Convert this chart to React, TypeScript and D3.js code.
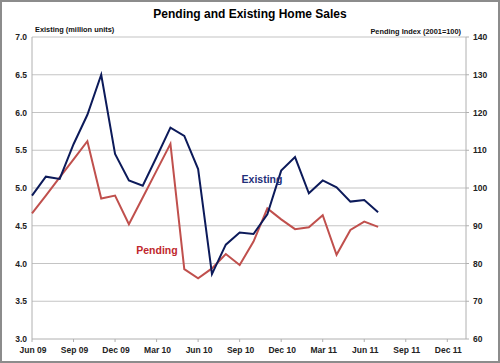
import React, { useEffect, useRef } from "react";
import * as d3 from "d3";

// monthly data, Jun 09 .. Jul 11
const existing = [
	4.9, 5.15, 5.12, 5.58, 5.97, 6.5, 5.45, 5.1, 5.03, 5.41, 5.8, 5.69, 5.25, 3.86, 4.25, 4.41, 4.39, 4.65,
	5.23, 5.41, 4.93, 5.1, 5.01, 4.82, 4.84, 4.68,
];
const pending = [
	93.3, 98.0, 102.8, 107.6, 112.4, 97.2, 98.0, 90.4, 97.5, 104.6, 111.7, 78.5, 76.1, 78.7, 82.5, 79.6, 85.8,
	94.6, 91.7, 89.1, 89.6, 92.8, 82.3, 88.9, 91.1, 89.7,
];
const tickLabels = ["Jun 09", "Sep 09", "Dec 09", "Mar 10", "Jun 10", "Sep 10", "Dec 10", "Mar 11", "Jun 11", "Sep 11", "Dec 11"];
const leftTicks = [3.0, 3.5, 4.0, 4.5, 5.0, 5.5, 6.0, 6.5, 7.0];
const rightTicks = [60, 70, 80, 90, 100, 110, 120, 130, 140];

const W = 500;
const H = 363;
const M = { left: 32, right: 466, top: 37, bottom: 339 };
const FONT = "Arial, 'Liberation Sans', sans-serif";

export default function App() {
	const svgRef = useRef<SVGSVGElement>(null);

	useEffect(() => {
		const svg = d3.select(svgRef.current);
		svg.selectAll("*").remove();

		const x = d3.scaleLinear().domain([0, 31.35]).range([M.left, M.right]);
		const yL = d3.scaleLinear().domain([3, 7]).range([M.bottom, M.top]);
		const yR = d3.scaleLinear().domain([60, 140]).range([M.bottom, M.top]);

		svg.append("rect").attr("width", W).attr("height", H).attr("fill", "white");
		svg
			.append("rect")
			.attr("x", 1)
			.attr("y", 1)
			.attr("width", W - 2)
			.attr("height", H - 2)
			.attr("fill", "none")
			.attr("stroke", "#8c8c8c")
			.attr("stroke-width", 2);

		// gridlines
		svg
			.selectAll(".grid")
			.data(leftTicks.slice(1))
			.join("line")
			.attr("x1", M.left)
			.attr("x2", M.right)
			.attr("y1", (d) => yL(d))
			.attr("y2", (d) => yL(d))
			.attr("stroke", "#c4c4c4")
			.attr("stroke-width", 1.2);

		// axis lines
		svg.append("line").attr("x1", M.left).attr("x2", M.left).attr("y1", M.top).attr("y2", M.bottom).attr("stroke", "#b0b0b0");
		svg.append("line").attr("x1", M.right).attr("x2", M.right).attr("y1", M.top).attr("y2", M.bottom).attr("stroke", "#b0b0b0");
		svg.append("line").attr("x1", M.left).attr("x2", M.right).attr("y1", M.bottom).attr("y2", M.bottom).attr("stroke", "#b0b0b0");

		// left ticks
		svg
			.selectAll(".lt")
			.data(leftTicks)
			.join("text")
			.attr("x", 27)
			.attr("y", (d) => yL(d) + 3)
			.attr("text-anchor", "end")
			.attr("font-family", FONT)
			.attr("font-size", 8.5)
			.attr("font-weight", "bold")
			.attr("fill", "#222")
			.text((d) => d.toFixed(1));

		// right ticks
		svg
			.selectAll(".rtm")
			.data(rightTicks)
			.join("line")
			.attr("x1", M.right)
			.attr("x2", M.right + 3)
			.attr("y1", (d) => yR(d))
			.attr("y2", (d) => yR(d))
			.attr("stroke", "#b0b0b0");
		svg
			.selectAll(".rt")
			.data(rightTicks)
			.join("text")
			.attr("x", 473)
			.attr("y", (d) => yR(d) + 3)
			.attr("font-family", FONT)
			.attr("font-size", 8.5)
			.attr("font-weight", "bold")
			.attr("fill", "#222")
			.text((d) => d);

		// x ticks
		svg
			.selectAll(".xtm")
			.data(tickLabels)
			.join("line")
			.attr("x1", (d, i) => x(i * 3))
			.attr("x2", (d, i) => x(i * 3))
			.attr("y1", M.bottom)
			.attr("y2", M.bottom + 3)
			.attr("stroke", "#b0b0b0");
		svg
			.selectAll(".xt")
			.data(tickLabels)
			.join("text")
			.attr("x", (d, i) => x(i * 3) + 1)
			.attr("y", 353)
			.attr("text-anchor", "middle")
			.attr("font-family", FONT)
			.attr("font-size", 8.5)
			.attr("font-weight", "bold")
			.attr("fill", "#222")
			.text((d) => d);

		// lines
		const lineL = d3
			.line<number>()
			.x((d, i) => x(i))
			.y((d) => yL(d));
		const lineR = d3
			.line<number>()
			.x((d, i) => x(i))
			.y((d) => yR(d));

		svg
			.append("path")
			.attr("d", lineR(pending))
			.attr("fill", "none")
			.attr("stroke", "#c0504d")
			.attr("stroke-width", 2)
			.attr("stroke-linejoin", "miter");
		svg
			.append("path")
			.attr("d", lineL(existing))
			.attr("fill", "none")
			.attr("stroke", "#0c1a5a")
			.attr("stroke-width", 2)
			.attr("stroke-linejoin", "miter");

		// series labels
		svg
			.append("text")
			.attr("x", 262)
			.attr("y", 183)
			.attr("text-anchor", "middle")
			.attr("font-family", FONT)
			.attr("font-size", 10.5)
			.attr("font-weight", "bold")
			.attr("fill", "#1f2f7a")
			.text("Existing");
		svg
			.append("text")
			.attr("x", 157)
			.attr("y", 254)
			.attr("text-anchor", "middle")
			.attr("font-family", FONT)
			.attr("font-size", 10.5)
			.attr("font-weight", "bold")
			.attr("fill", "#c0282d")
			.text("Pending");

		// titles
		svg
			.append("text")
			.attr("x", 250)
			.attr("y", 18)
			.attr("text-anchor", "middle")
			.attr("font-family", FONT)
			.attr("font-size", 12)
			.attr("font-weight", "bold")
			.attr("fill", "#000")
			.text("Pending and Existing Home Sales");
		svg
			.append("text")
			.attr("x", 35)
			.attr("y", 32)
			.attr("font-family", FONT)
			.attr("font-size", 7.4)
			.attr("font-weight", "bold")
			.attr("fill", "#111")
			.text("Existing (million units)");
		svg
			.append("text")
			.attr("x", 461)
			.attr("y", 34)
			.attr("text-anchor", "end")
			.attr("font-family", FONT)
			.attr("font-size", 7.4)
			.attr("font-weight", "bold")
			.attr("fill", "#111")
			.text("Pending Index (2001=100)");
	}, []);

	return (
		<div style={{ position: "absolute", left: 0, top: 0 }}>
			<svg ref={svgRef} width={W} height={H}></svg>
		</div>
	);
}
